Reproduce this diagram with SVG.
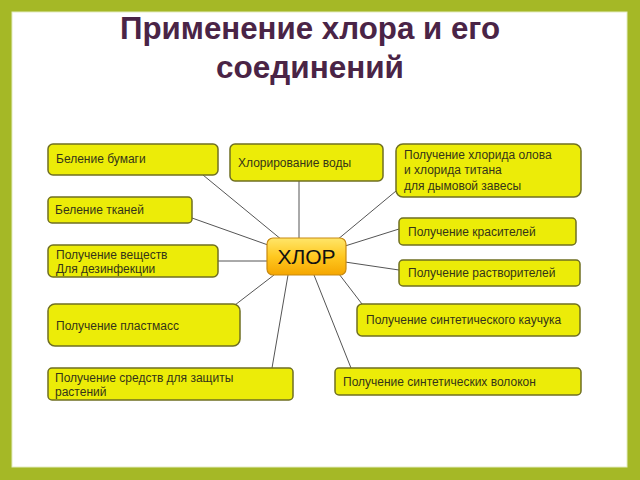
<svg xmlns="http://www.w3.org/2000/svg" width="640" height="480" viewBox="0 0 640 480">
<defs>
<linearGradient id="og" x1="0" y1="0" x2="0" y2="1">
<stop offset="0" stop-color="#FFE66A"/>
<stop offset="0.5" stop-color="#FFC820"/>
<stop offset="1" stop-color="#F5A600"/>
</linearGradient>
<style>
.n{fill:#ECEC08;stroke:#6F6F22;stroke-width:1.5}
.t{font-family:"Liberation Sans",Arial,sans-serif;font-size:12px;fill:#343418}
.c line{stroke:#555;stroke-width:1}
.title{font-family:"Liberation Sans",Arial,sans-serif;font-size:31px;font-weight:bold;fill:#4A2446;text-anchor:middle}
</style>
</defs>
<rect x="0" y="0" width="640" height="480" fill="#A5B826"/>
<rect x="12" y="12" width="615" height="455" fill="#FFFFFF" stroke="#E4ECC0" stroke-width="1"/>
<text class="title" x="310" y="39" textLength="380" lengthAdjust="spacingAndGlyphs">Применение хлора и его</text>
<text class="title" x="310" y="78" textLength="188" lengthAdjust="spacingAndGlyphs">соединений</text>
<g class="c" id="connectors">
<line x1="203" y1="175" x2="282" y2="240"/>
<line x1="299" y1="181" x2="299" y2="238"/>
<line x1="396" y1="191" x2="337" y2="240"/>
<line x1="192" y1="218" x2="268" y2="245"/>
<line x1="218" y1="261" x2="267" y2="261"/>
<line x1="399" y1="229" x2="345" y2="246"/>
<line x1="399" y1="270" x2="345" y2="262"/>
<line x1="235" y1="305" x2="274" y2="275"/>
<line x1="272" y1="368" x2="288" y2="275"/>
<line x1="351" y1="368" x2="314" y2="275"/>
<line x1="362" y1="304" x2="339" y2="274"/>
</g>
<g id="n-bumaga"><rect class="n" x="48" y="144" width="170" height="31" rx="5"/><text class="t" x="56" y="163">Беление бумаги</text></g>
<g id="n-voda"><rect class="n" x="230" y="144" width="153" height="37" rx="5"/><text class="t" x="238" y="167">Хлорирование воды</text></g>
<g id="n-olovo"><rect class="n" x="396" y="144" width="185" height="53" rx="7"/><text class="t" x="404" y="159">Получение хлорида олова</text><text class="t" x="404" y="174">и хлорида титана</text><text class="t" x="404" y="190">для дымовой завесы</text></g>
<g id="n-tkani"><rect class="n" x="48" y="197" width="144" height="26" rx="4"/><text class="t" x="55" y="214">Беление тканей</text></g>
<g id="n-dezinf"><rect class="n" x="48" y="245" width="170" height="32" rx="5"/><text class="t" x="56" y="259">Получение веществ</text><text class="t" x="56" y="273">Для дезинфекции</text></g>
<g id="n-krasit"><rect class="n" x="399" y="218" width="177" height="27" rx="4"/><text class="t" x="408" y="236">Получение красителей</text></g>
<g id="n-rastvor"><rect class="n" x="399" y="260" width="181" height="26" rx="4"/><text class="t" x="408" y="277">Получение растворителей</text></g>
<g id="n-hlor"><rect x="267" y="238" width="79" height="37" rx="6" fill="url(#og)" stroke="#C88A10" stroke-width="1.2"/><text x="306.5" y="264" text-anchor="middle" style="font-family:'Liberation Sans',Arial,sans-serif;font-size:21px;fill:#111">ХЛОР</text></g>
<g id="n-plast"><rect class="n" x="48" y="304" width="192" height="42" rx="7"/><text class="t" x="56" y="330">Получение пластмасс</text></g>
<g id="n-kauchuk"><rect class="n" x="357" y="304" width="223" height="32" rx="5"/><text class="t" x="366" y="324">Получение синтетического каучука</text></g>
<g id="n-zashita"><rect class="n" x="48" y="368" width="245" height="32" rx="4"/><text class="t" x="55" y="382">Получение средств для защиты</text><text class="t" x="55" y="396">растений</text></g>
<g id="n-volokna"><rect class="n" x="335" y="368" width="246" height="27" rx="4"/><text class="t" x="343" y="386">Получение синтетических волокон</text></g>
</svg>
